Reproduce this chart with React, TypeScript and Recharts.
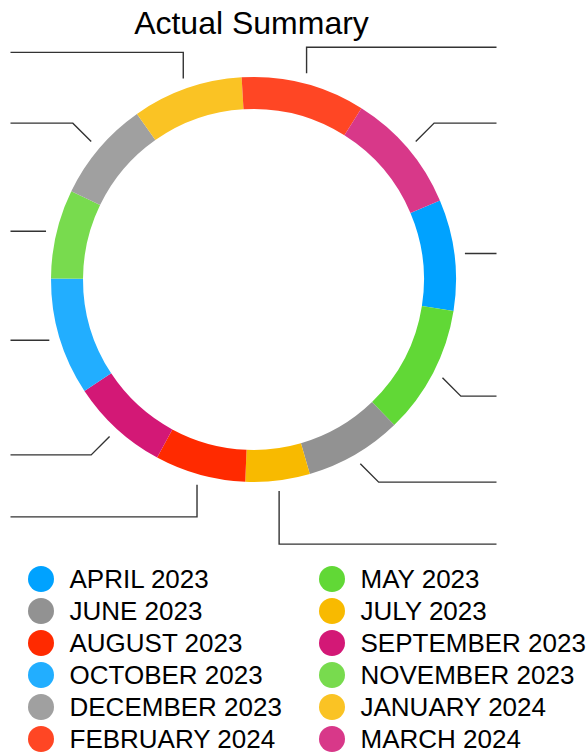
import React from "react";
import { PieChart, Pie, Legend } from "recharts";

document.body.style.margin = "0";

const months = [
  "APRIL 2023",
  "MAY 2023",
  "JUNE 2023",
  "JULY 2023",
  "AUGUST 2023",
  "SEPTEMBER 2023",
  "OCTOBER 2023",
  "NOVEMBER 2023",
  "DECEMBER 2023",
  "JANUARY 2024",
  "FEBRUARY 2024",
  "MARCH 2024",
];
const actuals = [3200, 3700, 2790, 1850, 2610, 2820, 3370, 2560, 2900, 3180, 3560, 3480];
const colors = [
  "#00A2FF",
  "#61D836",
  "#929292",
  "#F8BA00",
  "#FF2A00",
  "#D31876",
  "#22AEFF",
  "#78DB4E",
  "#A0A0A0",
  "#FAC324",
  "#FF4624",
  "#D83889",
];

const W = 586;
const H = 752;
const CX = 253.5;
const CY = 279.5;
const OUTER = 202.5;
const INNER = 170.5;
const START = 23; // april starts a little past 2 o'clock
const GAP = 10.5; // ring -> start of leader
const TICK = 26; // first leader segment
const REACH = 243; // horizontal leaders stop at cx +/- this
const SPACING = 62; // min vertical distance between labels on one side
const FONT = '"Liberation Sans", Arial, Helvetica, sans-serif';

const data = months.map((name, i) => ({ name, value: actuals[i], fill: colors[i] }));

const RAD = Math.PI / 180;
const polar = (r: number, a: number) => ({
  x: CX + r * Math.cos(-a * RAD),
  y: CY + r * Math.sin(-a * RAD),
});

// leader layout: same angles recharts uses, lines snapped to 0/45/90 deg
const total = actuals.reduce((s, v) => s + v, 0);
let acc = 0;
const leaders = actuals.map((v) => {
  const mid = START - ((acc + v / 2) / total) * 360;
  acc += v;
  const p0 = polar(OUTER + GAP, mid);
  const cw = (((90 - mid) % 360) + 360) % 360;
  const snap = Math.round(cw / 45) * 45;
  const dx = Math.round(Math.sin(snap * RAD) * 1000) / 1000;
  const dy = Math.round(-Math.cos(snap * RAD) * 1000) / 1000;
  const side = p0.x >= CX ? 1 : -1;
  return { p0, dx, dy, side, y: p0.y + dy * TICK };
});
[1, -1].forEach((side) => {
  const list = leaders.filter((l) => l.side === side).sort((a, b) => a.y - b.y);
  for (let i = 1; i < list.length; i++) {
    if (list[i].y < list[i - 1].y + SPACING) list[i].y = list[i - 1].y + SPACING;
  }
});

const noLabel = () => <g />;

const drawLeader = (props: any) => {
  const l = leaders[props.index];
  if (!l) return <g />;
  const { p0, dx, side, y } = l;
  const k = Math.abs(y - p0.y);
  const cornerX = dx === 0 ? p0.x : p0.x + Math.sign(dx) * k;
  const endX = CX + side * REACH;
  return (
    <path
      key={"leader-" + props.index}
      d={`M${p0.x},${p0.y}L${cornerX},${y}L${endX},${y}`}
      fill="none"
      stroke="#333"
      strokeWidth={1.4}
    />
  );
};

// keep data order (recharts would sort the payload by name)
const renderLegend = () => (
  <div style={{ display: "grid", gridTemplateColumns: "291px 295px", fontFamily: FONT }}>
    {months.map((name, i) => (
      <div key={name} style={{ display: "flex", alignItems: "center", height: 32 }}>
        <span
          style={{
            width: 26,
            height: 26,
            borderRadius: "50%",
            background: colors[i],
            marginLeft: 27.5,
            marginRight: 16,
            flex: "none",
          }}
        />
        <span style={{ fontSize: 26, color: "#000", whiteSpace: "nowrap" }}>{name}</span>
      </div>
    ))}
  </div>
);

export default function App() {
  return (
    <div style={{ position: "relative", width: W, height: H, background: "#fff", fontFamily: FONT }}>
      <div
        style={{
          position: "absolute",
          left: 0,
          top: 8,
          width: 503,
          textAlign: "center",
          fontSize: 32,
          lineHeight: "31px",
          color: "#000",
        }}
      >
        Actual Summary
      </div>
      <PieChart
        width={W}
        height={H}
        margin={{ top: 0, right: 0, bottom: 0, left: 0 }}
        style={{ position: "absolute", left: 0, top: 0 }}
      >
        <Pie
          data={data}
          dataKey="value"
          nameKey="name"
          cx={CX}
          cy={CY}
          innerRadius={INNER}
          outerRadius={OUTER}
          startAngle={START}
          endAngle={START - 360}
          stroke="none"
          label={noLabel}
          labelLine={drawLeader}
          isAnimationActive={false}
        />
        <Legend
          content={renderLegend}
          wrapperStyle={{ position: "absolute", left: 0, top: 563, width: W }}
        />
      </PieChart>
    </div>
  );
}
